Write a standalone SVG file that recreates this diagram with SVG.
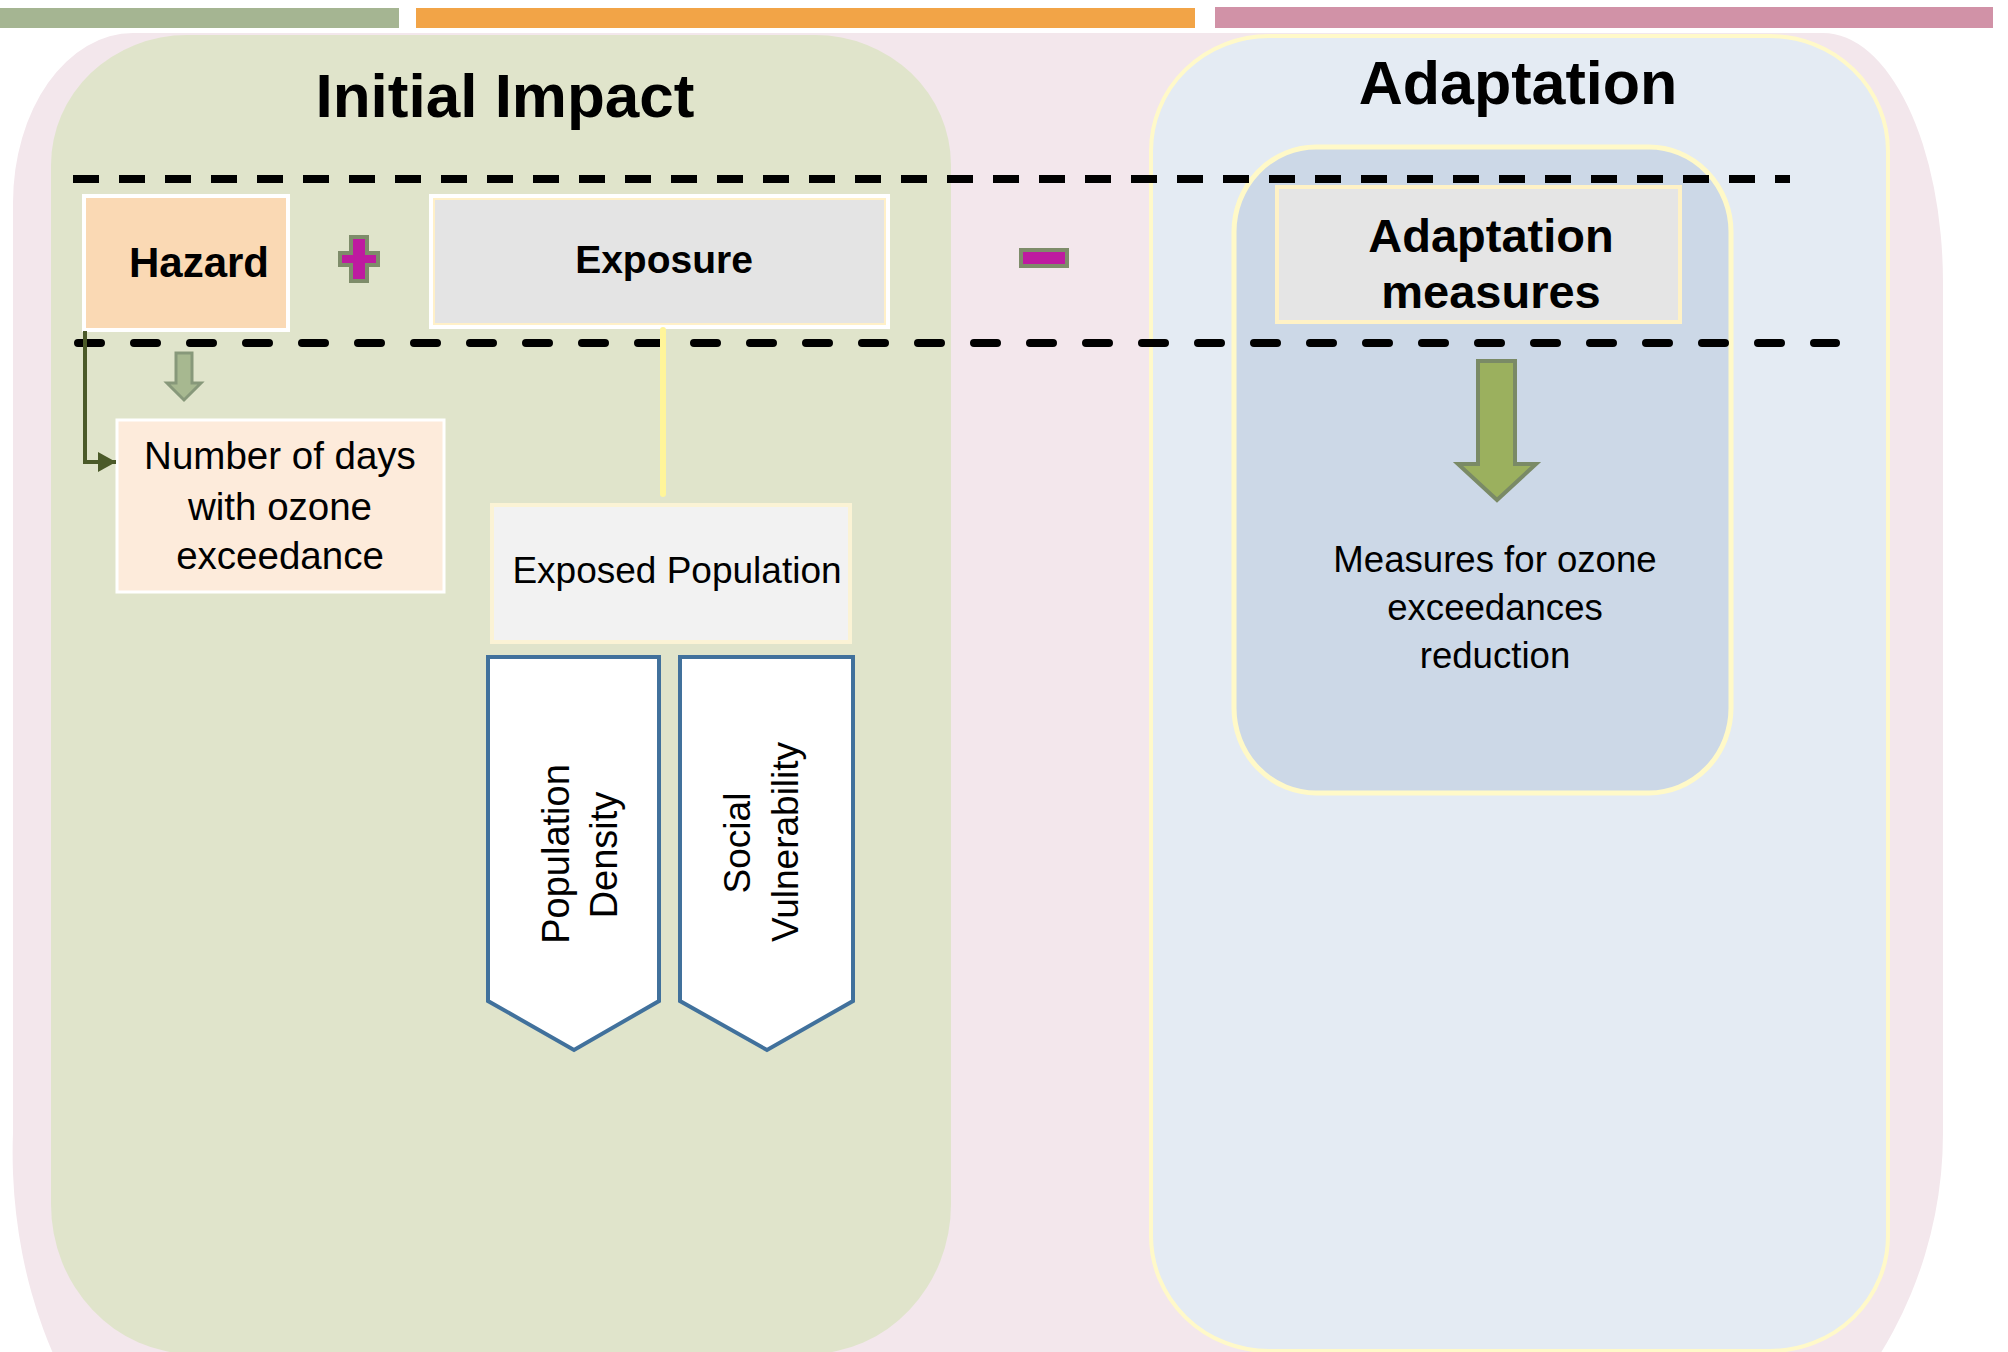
<svg xmlns="http://www.w3.org/2000/svg" width="2008" height="1352" viewBox="0 0 2008 1352">
<defs>
<style>
.bold{font-family:"Liberation Sans",Arial,sans-serif;font-weight:bold;fill:#000}
.reg{font-family:"Liberation Sans",Arial,sans-serif;fill:#000}
.chev{fill:#fff;stroke:#41719C;stroke-width:4;stroke-linejoin:miter}
.op{fill:#BE1AA0;stroke:#7E8C6A;stroke-width:4}
</style>
<marker id="ah" markerUnits="userSpaceOnUse" markerWidth="20" markerHeight="22" refX="18" refY="10" orient="auto">
<path d="M0,0 L18,10 L0,20 Z" fill="#4B5A29"/>
</marker>
</defs>
<rect width="2008" height="1352" fill="#fff"/>
<g id="top-bars">
<rect x="0" y="8" width="399" height="20" fill="#A5B592"/>
<rect x="416" y="8" width="779" height="20" fill="#F2A447"/>
<rect x="1215" y="7" width="778" height="21" fill="#D192A7"/>
</g>
<g id="background">
<path d="M133 33 H1823 A120 250 0 0 1 1943 283 V1133 A420 420 0 0 1 1523 1553 H313 A300 400 0 0 1 13 1133 V203 A120 170 0 0 1 133 33 Z" fill="#F3E7EC"/>
</g>
<g id="initial-impact">
<path d="M187 35 H815 A136 130 0 0 1 951 165 V1204 A142 150 0 0 1 809 1354 H193 A142 150 0 0 1 51 1204 V165 A136 130 0 0 1 187 35 Z" fill="#E0E4CB"/>
<text class="bold" x="505" y="117" font-size="62" text-anchor="middle">Initial Impact</text>
</g>
<g id="adaptation">
<path d="M1269 36 H1770 A118 115 0 0 1 1888 151 V1236 A118 115 0 0 1 1770 1351 H1269 A118 115 0 0 1 1151 1236 V151 A118 115 0 0 1 1269 36 Z" fill="#E4EBF3" stroke="#FFF9C9" stroke-width="4"/>
<text class="bold" x="1518" y="104" font-size="61" text-anchor="middle">Adaptation</text>
</g>
<g id="adaptation-panel">
<path d="M1316 147 H1649 A82 85 0 0 1 1731 232 V708 A82 85 0 0 1 1649 793 H1316 A82 85 0 0 1 1234 708 V232 A82 85 0 0 1 1316 147 Z" fill="#CCD8E7" stroke="#FFF9C8" stroke-width="5"/>
</g>
<g id="separators" fill="none" stroke="#000" stroke-width="8">
<path d="M73 179 H1790" stroke-dasharray="26 20"/>
<path d="M78 343 H1836" stroke-dasharray="23 33" stroke-linecap="round"/>
</g>
<g id="hazard">
<rect x="84" y="196" width="204" height="134" fill="#FAD9B4" stroke="#fff" stroke-width="4"/>
<text class="bold" x="199" y="277" font-size="42" text-anchor="middle">Hazard</text>
</g>
<g id="plus">
<polygon class="op" points="351,237 367,237 367,253 378,253 378,265 367,265 367,281 351,281 351,265 340,265 340,253 351,253"/>
</g>
<g id="exposure">
<rect x="431" y="196" width="457" height="131" fill="#E4E4E4" stroke="#fff" stroke-width="4"/>
<rect x="434" y="199" width="451" height="125" fill="none" stroke="#FFF0C8" stroke-width="2"/>
<text class="bold" x="664" y="273" font-size="39" text-anchor="middle">Exposure</text>
</g>
<g id="minus">
<rect class="op" x="1021" y="250" width="46" height="16"/>
</g>
<g id="adaptation-measures">
<rect x="1277" y="187" width="403" height="135" fill="#E5E5E5" stroke="#FFF2C6" stroke-width="4"/>
<text class="bold" x="1491" y="252" font-size="47" text-anchor="middle">Adaptation</text>
<text class="bold" x="1491" y="308" font-size="47" text-anchor="middle">measures</text>
</g>
<g id="ozone-days">
<rect x="117" y="420" width="327" height="172" fill="#FDEBDB" stroke="#fff" stroke-width="3"/>
<text class="reg" x="280" y="469" font-size="38.5" text-anchor="middle">Number of days</text>
<text class="reg" x="280" y="520" font-size="38.5" text-anchor="middle">with ozone</text>
<text class="reg" x="280" y="569" font-size="38.5" text-anchor="middle">exceedance</text>
</g>
<g id="exposed-population">
<rect x="492" y="505" width="358" height="137" fill="#F2F2F2" stroke="#FBF3D5" stroke-width="4"/>
<text class="reg" x="677" y="583" font-size="37" text-anchor="middle">Exposed Population</text>
</g>
<g id="population-density">
<polygon class="chev" points="488,657 659,657 659,1001 574,1050 488,1001"/>
<text class="reg" font-size="38" text-anchor="middle" transform="translate(569,854) rotate(-90)">Population</text>
<text class="reg" font-size="38" text-anchor="middle" transform="translate(617,855) rotate(-90)">Density</text>
</g>
<g id="social-vulnerability">
<polygon class="chev" points="680,657 853,657 853,1001 767,1050 680,1001"/>
<text class="reg" font-size="37" text-anchor="middle" transform="translate(750,843) rotate(-90)">Social</text>
<text class="reg" font-size="37" text-anchor="middle" transform="translate(798,842) rotate(-90)">Vulnerability</text>
</g>
<g id="ozone-measures">
<text class="reg" x="1495" y="572" font-size="36.6" text-anchor="middle">Measures for ozone</text>
<text class="reg" x="1495" y="620" font-size="36.6" text-anchor="middle">exceedances</text>
<text class="reg" x="1495" y="668" font-size="36.6" text-anchor="middle">reduction</text>
</g>
<g id="connectors">
<path d="M85 331 V462 H116" fill="none" stroke="#4B5A29" stroke-width="4" marker-end="url(#ah)"/>
<path d="M663 330 V494" fill="none" stroke="#FFF59A" stroke-width="6" stroke-linecap="round"/>
<polygon points="176,353 192,353 192,383 201,383 184,400 167,383 176,383" fill="#A7B890" stroke="#87987A" stroke-width="3"/>
<polygon points="1478,361 1515,361 1515,464 1536,464 1497,500 1458,464 1478,464" fill="#9BB05E" stroke="#7A8A66" stroke-width="4"/>
</g>
</svg>
